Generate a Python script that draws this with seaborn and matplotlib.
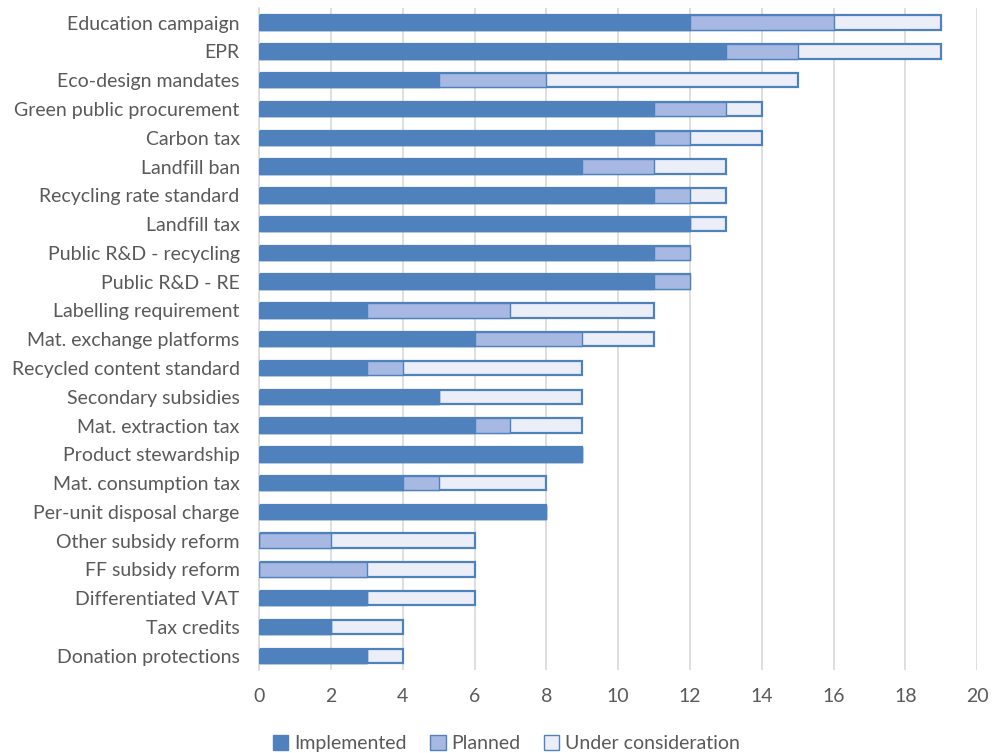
import numpy as np
import pandas as pd
import seaborn as sns
from matplotlib import pyplot as plt
from matplotlib.patches import Patch

policies = ["Education campaign", "EPR", "Eco-design mandates", "Green public procurement",
            "Carbon tax", "Landfill ban", "Recycling rate standard", "Landfill tax",
            "Public R&D - recycling", "Public R&D - RE", "Labelling requirement",
            "Mat. exchange platforms", "Recycled content standard", "Secondary subsidies",
            "Mat. extraction tax", "Product stewardship", "Mat. consumption tax",
            "Per-unit disposal charge", "Other subsidy reform", "FF subsidy reform",
            "Differentiated VAT", "Tax credits", "Donation protections"]
implemented = [12, 13, 5, 11, 11, 9, 11, 12, 11, 11, 3, 6, 3, 5, 6, 9, 4, 8, 0, 0, 3, 2, 3]
planned = [4, 2, 3, 2, 1, 2, 1, 0, 1, 1, 4, 3, 1, 0, 1, 0, 1, 0, 2, 3, 0, 0, 0]
under_consideration = [3, 4, 7, 1, 2, 2, 1, 1, 0, 0, 4, 2, 5, 4, 2, 0, 3, 0, 4, 3, 3, 2, 1]

c_impl = "#4F81BD"
c_plan = "#A7B8E2"
c_under = "#EBEEF7"
edge = "#4F81BD"
text_col = "#595959"

df = pd.DataFrame({"policy": policies,
                   "implemented": implemented,
                   "planned": planned,
                   "under": under_consideration})
df["cum_plan"] = df["implemented"] + df["planned"]
df["total"] = df["cum_plan"] + df["under"]

sns.set_style("white")
plt.rcParams['font.family'] = ['Lato', 'DejaVu Sans']

fig, ax = plt.subplots(figsize=(9.93, 7.53), dpi=100)
fig.subplots_adjust(left=0.261, right=0.984, top=0.989, bottom=0.110)

# stacked look: draw cumulative totals back to front
sns.barplot(data=df, y="policy", x="total", color=c_under, edgecolor=edge,
            linewidth=1.6, width=0.5, saturation=1, ax=ax, zorder=2)
sns.barplot(data=df, y="policy", x="cum_plan", color=c_plan, edgecolor=edge,
            linewidth=1.0, width=0.5, saturation=1, ax=ax, zorder=3)
sns.barplot(data=df, y="policy", x="implemented", color=c_impl, edgecolor=c_impl,
            linewidth=1.0, width=0.5, saturation=1, ax=ax, zorder=4)

ax.set_xlim(0, 20)
ax.set_xticks(np.arange(0, 21, 2))
ax.set_xlabel("")
ax.set_ylabel("")
ax.grid(axis="x", color="#D9D9D9", linewidth=1.2, zorder=0)
ax.set_axisbelow(True)
for s in ["top", "right", "bottom"]:
    ax.spines[s].set_visible(False)
ax.spines["left"].set_color("#D9D9D9")
ax.spines["left"].set_linewidth(1.2)
ax.tick_params(axis="both", length=0, labelsize=14, colors=text_col)
ax.tick_params(axis="x", pad=13)
ax.tick_params(axis="y", pad=14)

handles = [Patch(facecolor=c_impl, edgecolor=c_impl, label="Implemented"),
           Patch(facecolor=c_plan, edgecolor=edge, label="Planned"),
           Patch(facecolor=c_under, edgecolor=edge, label="Under consideration")]
fig.legend(handles=handles, loc="lower center", ncol=3, frameon=False,
           bbox_to_anchor=(0.51, -0.022), fontsize=14, labelcolor=text_col,
           handlelength=0.8, handleheight=0.8, handletextpad=0.3, columnspacing=1.2)

fig.savefig("out.png", dpi=100)
